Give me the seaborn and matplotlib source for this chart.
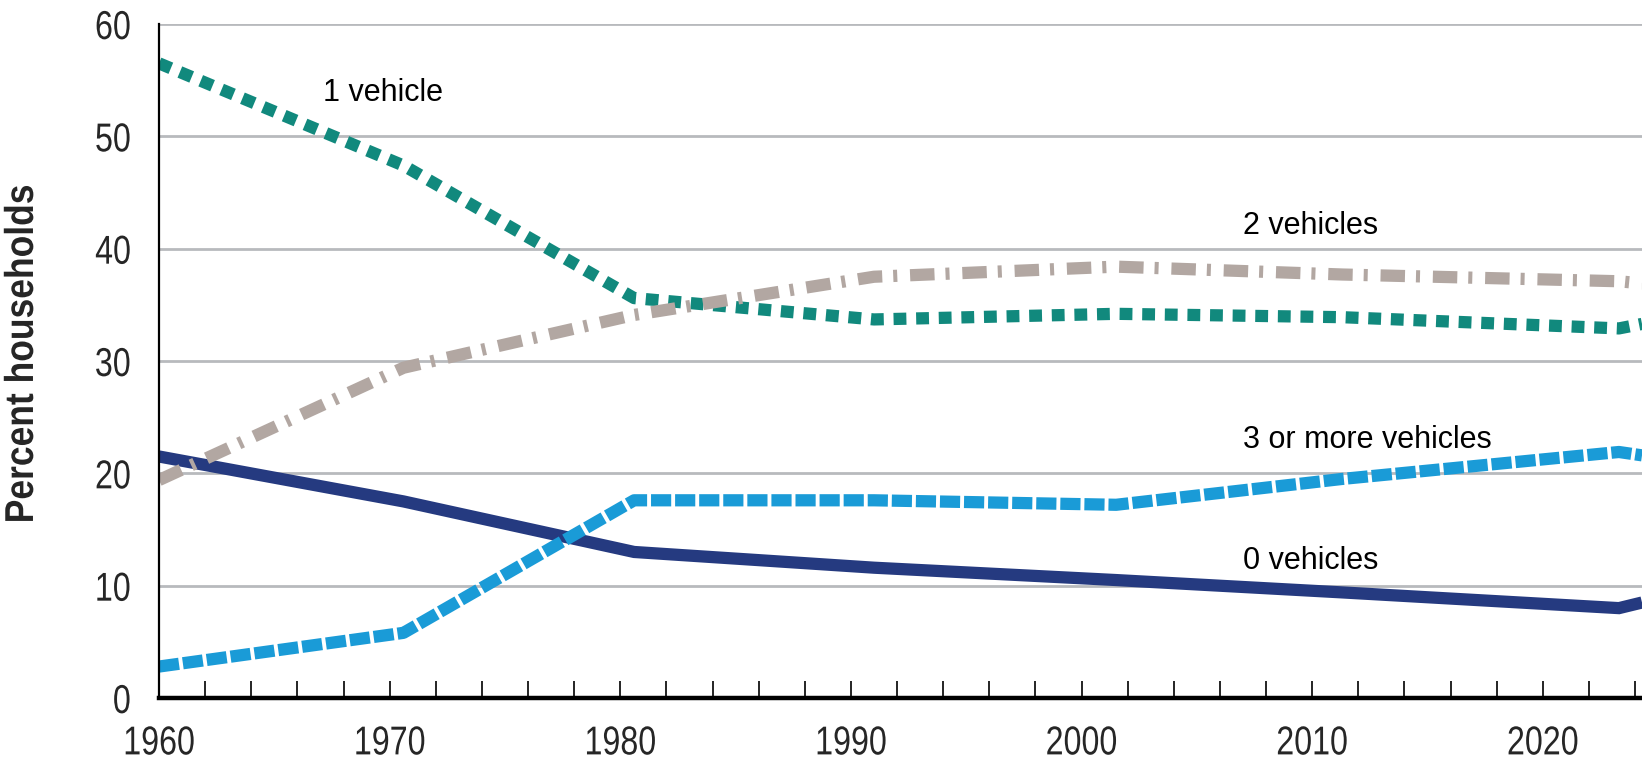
import pandas as pd
import matplotlib
matplotlib.use('Agg')
import matplotlib.pyplot as plt
import seaborn as sns
from matplotlib import patheffects
from matplotlib.transforms import Affine2D
from matplotlib.ticker import MultipleLocator

# Valores (porcentaje de hogares por número de vehículos)
years = [1960, 1970.6, 1980.6, 1991.0, 2001.5, 2011.3, 2023.3, 2024.3]
zero_vehicles = [21.5, 17.5, 13.0, 11.6, 10.5, 9.4, 8.0, 8.5]
one_vehicle = [56.5, 47.4, 35.6, 33.7, 34.2, 33.9, 32.9, 33.3]
two_vehicles = [19.4, 29.4, 34.1, 37.5, 38.4, 37.7, 37.1, 36.9]
three_plus_vehicles = [2.8, 5.8, 17.6, 17.6, 17.2, 19.5, 21.9, 21.6]

label_pos = {
    '1 vehicle': (1967.1, 53.9),
    '2 vehicles': (2007.0, 42.0),
    '3 or more vehicles': (2007.0, 23.0),
    '0 vehicles': (2007.0, 12.2),
}


class Squeeze(patheffects.AbstractPathEffect):
    """Estrecha el texto a lo largo de su línea base (imita una fuente 'narrow')."""

    def __init__(self, sx=0.8, anchor='center'):
        super().__init__()
        self.sx = sx
        self.anchor = anchor

    def draw_path(self, renderer, gc, tpath, affine, rgbFace=None):
        ext = tpath.get_extents()
        if self.anchor == 'right':
            cx = ext.x1
        elif self.anchor == 'left':
            cx = ext.x0
        else:
            cx = (ext.x0 + ext.x1) / 2
        t = Affine2D().translate(-cx, 0).scale(self.sx, 1).translate(cx, 0) + affine
        renderer.draw_path(gc, tpath, t, rgbFace)


sns.set_style('white')
plt.rcParams['font.family'] = ['Liberation Sans', 'DejaVu Sans']

fig = plt.figure(figsize=(16.42, 7.69), dpi=100)
ax = fig.add_axes([159 / 1642, 1 - 698 / 769, 1 - 159 / 1642, (698 - 24) / 769])

lw = 8.8
styles = {
    '0 vehicles': dict(color='#253A80', linestyle='-'),
    '1 vehicle': dict(color='#11897D', linestyle=(0, (1.05, 0.8))),
    '2 vehicles': dict(color='#B2A7A2', linestyle=(0, (2.0, 0.9, 0.33, 1.05))),
    '3 or more vehicles': dict(color='#1A9BD7', linestyle=(0, (1.65, 0.32))),
}
values = {
    '0 vehicles': zero_vehicles,
    '1 vehicle': one_vehicle,
    '2 vehicles': two_vehicles,
    '3 or more vehicles': three_plus_vehicles,
}

for name in ['0 vehicles', '1 vehicle', '2 vehicles', '3 or more vehicles']:
    df = pd.DataFrame({'year': years, 'pct': values[name]})
    sns.lineplot(data=df, x='year', y='pct', ax=ax, linewidth=lw,
                 solid_capstyle='butt', dash_capstyle='butt',
                 solid_joinstyle='miter', **styles[name])

for name, (x, y) in label_pos.items():
    ax.text(x, y, name, fontsize=22, ha='left', va='center', color='black')

ax.set_xlim(1960, 2024.3)
ax.set_ylim(0, 60)
ax.yaxis.set_major_locator(MultipleLocator(10))
ax.xaxis.set_major_locator(MultipleLocator(10))
ax.xaxis.set_minor_locator(MultipleLocator(2))
ax.grid(axis='y', color='#B8BABD', linewidth=2)
ax.grid(axis='x', visible=False)
ax.set_axisbelow(True)

for s in ['top', 'right']:
    ax.spines[s].set_visible(False)
ax.spines['left'].set_color('black')
ax.spines['left'].set_linewidth(1.6)
ax.spines['bottom'].set_color('black')
ax.spines['bottom'].set_linewidth(3.2)
ax.spines['bottom'].set_zorder(5)

ax.tick_params(axis='y', length=0, pad=20, labelsize=29)
ax.tick_params(axis='x', which='both', direction='in', length=12.5, width=1.2,
               color='black', bottom=True, pad=19, labelsize=29)
ax.tick_params(axis='x', which='minor', labelbottom=False)

fig.canvas.draw()
for lab in ax.get_xticklabels():
    lab.set_path_effects([Squeeze(0.8, 'center')])
for lab in ax.get_yticklabels():
    lab.set_path_effects([Squeeze(0.8, 'right')])

ax.set_xlabel('')
ax.set_ylabel('Percent households', fontsize=29, fontweight='bold')
ax.yaxis.label.set_va('center')
ax.yaxis.label.set_path_effects([Squeeze(0.88, 'center')])
ax.yaxis.set_label_coords(-0.0924, 0.51)

fig.savefig('out.png', dpi=100)
